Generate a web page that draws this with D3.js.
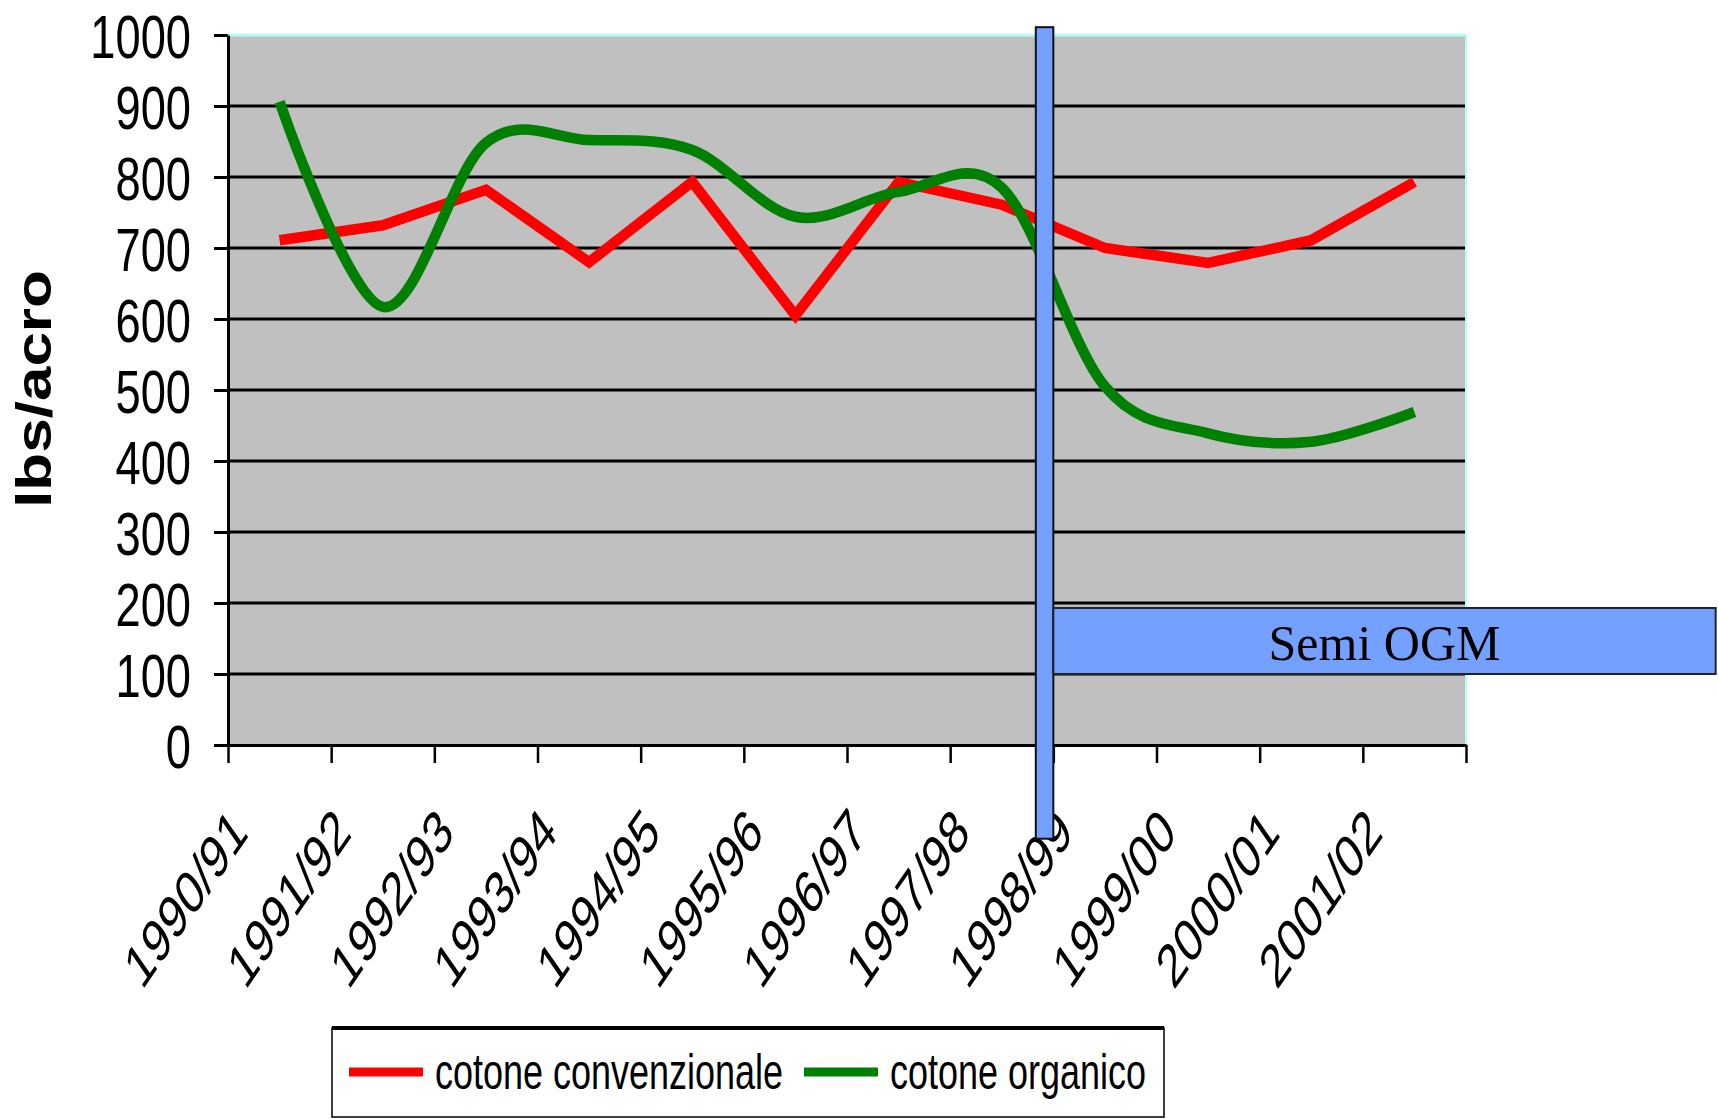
<!DOCTYPE html>
<html>
<head>
<meta charset="utf-8">
<script src="https://cdn.jsdelivr.net/npm/d3@7"></script>
<style>
  html, body { margin: 0; padding: 0; background: #fff; }
  text { font-family: "Liberation Sans", Arial, sans-serif; }
</style>
</head>
<body>
<div id="chart"></div>
<script>
// Seasons on the category axis
const seasons = ['1990/91', '1991/92', '1992/93', '1993/94', '1994/95', '1995/96',
                 '1996/97', '1997/98', '1998/99', '1999/00', '2000/01', '2001/02'];
// Yields, lbs/acro
const conventional = [711, 732, 782, 680, 793, 605, 793, 761, 700, 679, 711, 793];
const organic = [906, 617, 848, 852, 838, 744, 779, 785, 505, 439, 427, 469];
const yTicks = [0, 100, 200, 300, 400, 500, 600, 700, 800, 900, 1000];
const seriesNames = ['cotone convenzionale', 'cotone organico'];
const seriesColors = ['#ff0000', '#008000'];

const W = 1719, H = 1119;
const margin = { top: 35, right: 253, bottom: 374, left: 228 };
const width = W - margin.left - margin.right;
const height = H - margin.top - margin.bottom;
const squeeze = 0.73; // the original picture is narrowed horizontally

const svg = d3.select('#chart').append('svg')
    .attr('width', W)
    .attr('height', H);
svg.append('rect').attr('width', W).attr('height', H).attr('fill', '#fff');

const g = svg.append('g')
    .attr('transform', `translate(${margin.left},${margin.top})`);

const x = d3.scaleBand().domain(seasons).range([0, width]);
const xEdge = d3.scaleLinear().domain([0, seasons.length]).range([0, width]);
const y = d3.scaleLinear().domain([0, 1000]).range([height, 0]);
const cx = s => x(s) + x.bandwidth() / 2;

// plot area
g.append('rect')
    .attr('width', width)
    .attr('height', height)
    .attr('fill', '#c0c0c0');

// gridlines
g.selectAll('.grid')
    .data(yTicks.filter(v => v > 0 && v < 1000))
    .enter().append('line')
    .attr('class', 'grid')
    .attr('x1', 0).attr('x2', width)
    .attr('y1', d => y(d)).attr('y2', d => y(d))
    .attr('stroke', '#000')
    .attr('stroke-width', 3);

// light border top / right
g.append('line')
    .attr('x1', 0).attr('x2', width)
    .attr('y1', y(1000)).attr('y2', y(1000))
    .attr('stroke', '#b4fbfb').attr('stroke-width', 3);
g.append('line')
    .attr('x1', width).attr('x2', width)
    .attr('y1', y(1000)).attr('y2', height)
    .attr('stroke', '#b4fbfb').attr('stroke-width', 2);

// series
const rows = seasons.map((s, i) => ({ s, conv: conventional[i], org: organic[i] }));

g.append('path')
    .datum(rows)
    .attr('fill', 'none')
    .attr('stroke', seriesColors[0])
    .attr('stroke-width', 10.5)
    .attr('stroke-linejoin', 'miter')
    .attr('d', d3.line().x(d => cx(d.s)).y(d => y(d.conv)));

g.append('path')
    .datum(rows)
    .attr('fill', 'none')
    .attr('stroke', seriesColors[1])
    .attr('stroke-width', 10.5)
    .attr('d', d3.line().curve(d3.curveCardinal.tension(0)).x(d => cx(d.s)).y(d => y(d.org)));

// y axis
const yAxis = g.append('g')
    .call(d3.axisLeft(y).tickValues(yTicks).tickSize(14).tickSizeOuter(0).tickFormat(d3.format('d')));
yAxis.select('.domain').attr('stroke', '#000').attr('stroke-width', 3);
yAxis.selectAll('.tick line').attr('stroke', '#000').attr('stroke-width', 3);
yAxis.selectAll('text')
    .attr('x', null)
    .attr('dy', null)
    .attr('transform', `translate(-37,${0.358 * 62}) scale(${squeeze},1)`)
    .style('font-size', '62px')
    .attr('fill', '#000');

// x axis: ticks on category edges
const xAxis = g.append('g')
    .attr('transform', `translate(0,${height})`)
    .call(d3.axisBottom(xEdge).tickValues(d3.range(seasons.length + 1)).tickSize(18).tickSizeOuter(0).tickFormat(''));
xAxis.select('.domain').attr('stroke', '#000').attr('stroke-width', 3);
xAxis.selectAll('.tick line').attr('stroke', '#000').attr('stroke-width', 2.5);

g.selectAll('.xlab')
    .data(seasons)
    .enter().append('text')
    .attr('class', 'xlab')
    .attr('text-anchor', 'end')
    .attr('transform', d => `translate(${cx(d) - 30},${height + 90}) scale(0.69,1) rotate(-45)`)
    .style('font-size', '61px')
    .attr('fill', '#000')
    .text(d => d);

// y title
svg.append('text')
    .attr('text-anchor', 'middle')
    .attr('transform', `translate(51,389) scale(0.82,1) rotate(-90)`)
    .style('font-size', '62px')
    .style('font-weight', 'bold')
    .attr('fill', '#000')
    .text('lbs/acro');

// GMO seeds marker
g.append('rect')
    .attr('x', xEdge(7.83))
    .attr('y', y(1011))
    .attr('width', xEdge(8) - xEdge(7.83))
    .attr('height', y(-132) - y(1011))
    .attr('fill', '#74a1ff')
    .attr('stroke', '#111')
    .attr('stroke-width', 2);

g.append('rect')
    .attr('x', xEdge(8))
    .attr('y', y(193))
    .attr('width', xEdge(14.42) - xEdge(8))
    .attr('height', y(100) - y(193))
    .attr('fill', '#74a1ff')
    .attr('stroke', '#222')
    .attr('stroke-width', 2);

g.append('text')
    .attr('x', (xEdge(8) + xEdge(14.42)) / 2)
    .attr('y', y(193) + 52)
    .attr('text-anchor', 'middle')
    .style('font-family', '"Liberation Serif", "Times New Roman", serif')
    .style('font-size', '50px')
    .attr('fill', '#000')
    .text('Semi OGM');

// legend
const legend = svg.append('g').attr('transform', 'translate(332,1028)');
legend.append('rect')
    .attr('width', 832).attr('height', 89)
    .attr('fill', '#fff')
    .attr('stroke', '#000').attr('stroke-width', 1.5);
legend.append('line')
    .attr('x1', 0).attr('x2', 832)
    .attr('y1', 0).attr('y2', 0)
    .attr('stroke', '#000').attr('stroke-width', 4);

const legendX = [17, 472];
seriesNames.forEach((name, i) => {
    legend.append('line')
        .attr('x1', legendX[i]).attr('x2', legendX[i] + 74)
        .attr('y1', 44).attr('y2', 44)
        .attr('stroke', seriesColors[i]).attr('stroke-width', 9);
    legend.append('text')
        .attr('transform', `translate(${legendX[i] + 86},61) scale(0.72,1)`)
        .style('font-size', '50px')
        .attr('fill', '#000')
        .text(name);
});
</script>
</body>
</html>
